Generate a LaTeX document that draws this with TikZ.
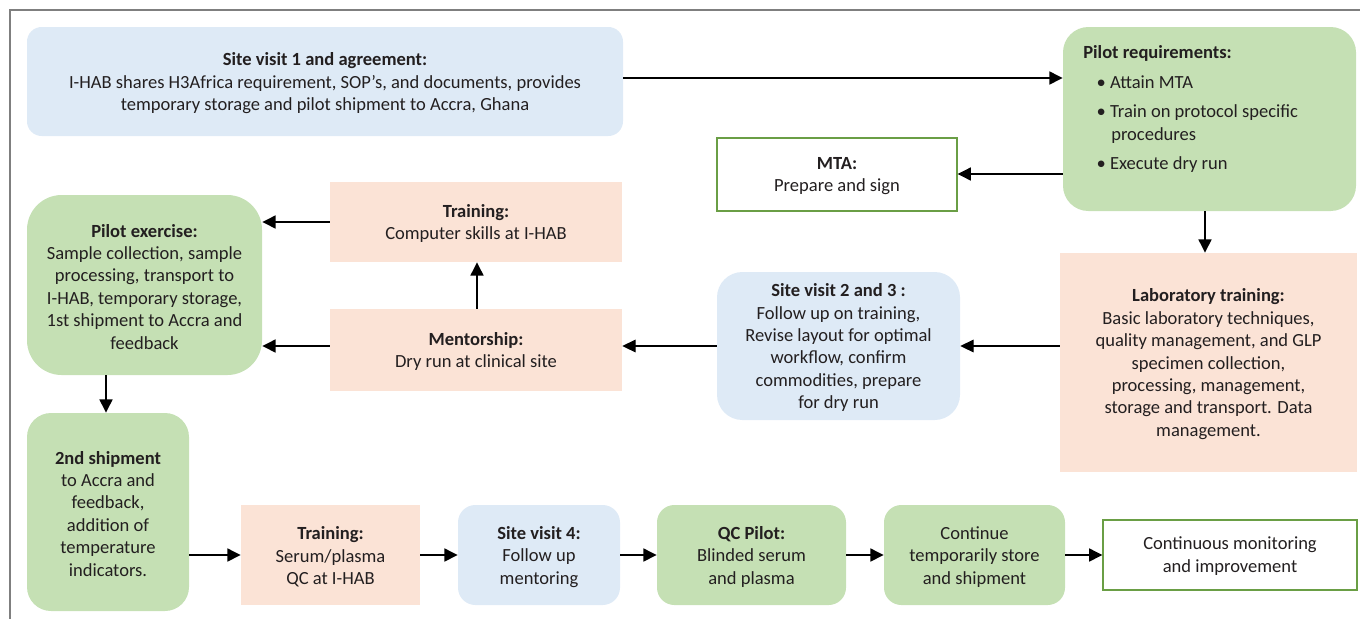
\documentclass[tikz,border=0pt]{standalone}
\usepackage{fontspec}
\setmainfont{Carlito}
\usetikzlibrary{arrows.meta,fit}
\definecolor{bluefill}{HTML}{DEEAF6}
\definecolor{greenfill}{HTML}{C5E0B4}
\definecolor{peachfill}{HTML}{FBE3D6}
\definecolor{greenline}{HTML}{6A9E45}
\definecolor{framegray}{HTML}{7F7F7F}
\definecolor{txt}{HTML}{231F20}
\begin{document}
\begin{tikzpicture}[x=0.75pt,y=-0.75pt,
  every node/.style={font=\fontsize{13.9}{16.8}\selectfont, text=txt},
  box/.style={inner sep=0pt},
  bluebox/.style={box, fill=bluefill, rounded corners=#1},
  greenbox/.style={box, fill=greenfill, rounded corners=#1},
  peachbox/.style={box, fill=peachfill},
  whitebox/.style={box, fill=white, draw=greenline, line width=0.8pt},
  lbl/.style={inner sep=0pt, align=center},
  arr/.style={-{Triangle[length=10pt,width=9.5pt]}, line width=2pt, draw=black},
  thinarr/.style={-{Triangle[length=10pt,width=9.5pt]}, line width=0.8pt, draw=black},
]
\useasboundingbox (0,0) rectangle (1360,619);
\draw[framegray, line width=1.1pt] (1360,10) -- (10,10) -- (10,619);

% boxes
\node[bluebox=11pt, fit={(27,27) (623,136)}] (sv1) {};
\node[greenbox=19pt, fit={(1063,27) (1356,211)}] (preq) {};
\node[whitebox, fit={(717,138) (957,211)}] (mta) {};
\node[greenbox=26pt, fit={(27,195) (262,375)}] (pex) {};
\node[peachbox, fit={(330,182) (622,262)}] (tr1) {};
\node[peachbox, fit={(330,309) (622,391)}] (ment) {};
\node[bluebox=19pt, fit={(717,272) (960,420)}] (sv2) {};
\node[peachbox, fit={(1060,253) (1357,472)}] (lab) {};
\node[greenbox=18pt, fit={(27,413) (189,611)}] (ship2) {};
\node[peachbox, fit={(241,505) (420,605)}] (tr2) {};
\node[bluebox=13pt, fit={(458,505) (620,605)}] (sv4) {};
\node[greenbox=13pt, fit={(657,505) (846,605)}] (qc) {};
\node[greenbox=13pt, fit={(884,505) (1065,605)}] (cont) {};
\node[whitebox, fit={(1103,520) (1357,590)}] (mon) {};

% texts
\node[lbl] (sv1t) at ([yshift=-1.3pt]sv1.center)
  {\textbf{Site visit 1 and agreement:}\\ I-HAB shares H3Africa requirement, SOP’s, and documents, provides\\ temporary storage and pilot shipment to Accra, Ghana};
\node[anchor=north west, align=left, inner sep=0pt] (preqt) at (1083,45)
  {\textbf{Pilot requirements:}\\[6pt]
   \hspace*{10pt}• Attain MTA\\[5pt]
   \hspace*{10pt}• Train on protocol specific\\
   \hspace*{21pt}procedures\\[5pt]
   \hspace*{10pt}• Execute dry run};
\node[lbl] (mtat) at ([yshift=-1.3pt]mta.center) {\textbf{MTA:}\\ Prepare and sign};
\node[lbl] (pext) at ([yshift=-1.3pt]pex.center)
  {\textbf{Pilot exercise:}\\ Sample collection, sample\\ processing, transport to\\ I-HAB, temporary storage,\\ 1st shipment to Accra and\\ feedback};
\node[lbl] (tr1t) at ([yshift=-1.3pt]tr1.center) {\textbf{Training:}\\ Computer skills at I-HAB};
\node[lbl] (mentt) at ([yshift=-1.3pt]ment.center) {\textbf{Mentorship:}\\ Dry run at clinical site};
\node[lbl] (sv2t) at ([yshift=-1.3pt]sv2.center)
  {\textbf{Site visit 2 and 3 :}\\ Follow up on training,\\ Revise layout for optimal\\ workflow, confirm\\ commodities, prepare\\ for dry run};
\node[lbl] (labt) at ([yshift=-1.3pt]lab.center)
  {\textbf{Laboratory training:}\\ Basic laboratory techniques,\\ quality management, and GLP\\ specimen collection,\\ processing, management,\\ storage and transport. Data\\ management.};
\node[lbl] (ship2t) at ([yshift=-1.3pt]ship2.center)
  {\textbf{2nd shipment}\\ to Accra and\\ feedback,\\ addition of\\ temperature\\ indicators.};
\node[lbl] (tr2t) at ([yshift=-1.3pt]tr2.center) {\textbf{Training:}\\ Serum/plasma\\ QC at I-HAB};
\node[lbl] (sv4t) at ([yshift=-1.3pt]sv4.center) {\textbf{Site visit 4:}\\ Follow up\\ mentoring};
\node[lbl] (qct) at ([yshift=-1.3pt]qc.center) {\textbf{QC Pilot:}\\ Blinded serum\\ and plasma};
\node[lbl] (contt) at ([yshift=-1.3pt]cont.center) {Continue\\ temporarily store\\ and shipment};
\node[lbl] (mont) at ([yshift=-0.8pt]mon.center) {Continuous monitoring\\ and improvement};

% connectors
\draw[arr] (sv1.east |- 0,78) -- (preq.west |- 0,78);
\draw[arr] (preq.west |- 0,174) -- (mta.east |- 0,174);
\draw[arr] (preq.south -| 1205,0) -- (lab.north -| 1205,0);
\draw[thinarr] (lab.west |- 0,346) -- (sv2.east |- 0,346);
\draw[thinarr] (sv2.west |- 0,346) -- (ment.east |- 0,346);
\draw[arr] (ment.north -| 477,0) -- (tr1.south -| 477,0);
\draw[arr] (tr1.west |- 0,222) -- (pex.east |- 0,222);
\draw[arr] (ment.west |- 0,346) -- (pex.east |- 0,346);
\draw[arr] (pex.south -| 106,0) -- (ship2.north -| 106,0);
\draw[arr] (ship2.east |- 0,555) -- (tr2.west |- 0,555);
\draw[arr] (tr2.east |- 0,555) -- (sv4.west |- 0,555);
\draw[arr] (sv4.east |- 0,555) -- (qc.west |- 0,555);
\draw[arr] (qc.east |- 0,555) -- (cont.west |- 0,555);
\draw[arr] (cont.east |- 0,555) -- (mon.west |- 0,555);
\end{tikzpicture}
\end{document}
